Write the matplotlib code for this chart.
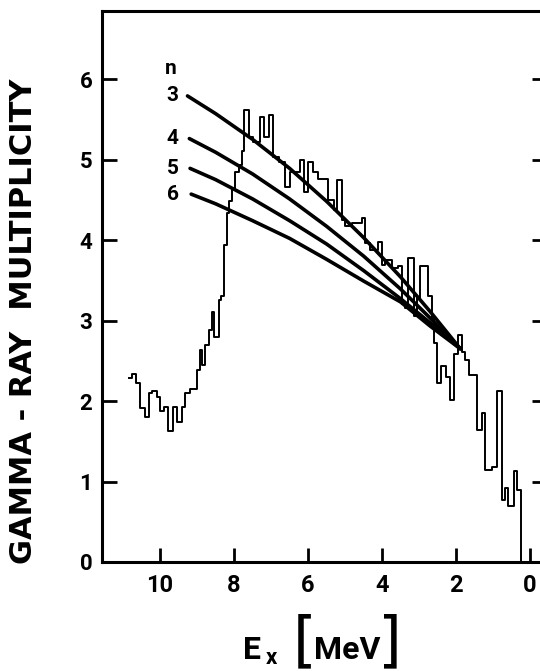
import matplotlib
matplotlib.use('Agg')
import matplotlib.pyplot as plt

plt.rcParams['font.family'] = ['Roboto', 'DejaVu Sans']
plt.rcParams['font.weight'] = 'bold'

# histogram: bin edges (MeV, high to low) and multiplicity in each bin
edges = [10.83, 10.75, 10.65, 10.54, 10.42, 10.31, 10.22, 10.09, 10.00, 9.89,
         9.79, 9.66, 9.55, 9.41, 9.32, 9.19, 9.01, 8.92, 8.87, 8.80,
         8.69, 8.59, 8.53, 8.42, 8.35, 8.26, 8.20, 8.13, 8.06, 7.97,
         7.88, 7.80, 7.72, 7.59, 7.48, 7.30, 7.19, 7.07, 6.94, 6.80,
         6.62, 6.49, 6.22, 6.11, 6.00, 5.87, 5.72, 5.45, 5.30, 5.22,
         5.09, 5.00, 4.82, 4.55, 4.46, 4.32, 4.10, 4.01, 3.92, 3.74,
         3.56, 3.47, 3.38, 3.29, 3.15, 3.06, 2.97, 2.75, 2.66, 2.61,
         2.52, 2.40, 2.28, 2.17, 2.07, 1.96, 1.85, 1.76, 1.64, 1.44,
         1.31, 1.22, 1.04, 0.90, 0.77, 0.68, 0.59, 0.45, 0.36, 0.24]
mult = [2.29, 2.33, 2.22, 1.91, 1.80, 2.10, 2.13, 2.05, 1.87, 1.93,
        1.63, 1.92, 1.74, 1.92, 2.10, 2.15, 2.38, 2.63, 2.45, 2.70,
        2.88, 3.11, 2.80, 3.25, 3.30, 3.94, 4.33, 4.49, 4.63, 4.85,
        4.93, 5.10, 5.62, 5.28, 5.22, 5.53, 5.28, 5.55, 5.03, 4.97,
        4.66, 4.85, 4.99, 4.60, 4.97, 4.85, 4.76, 4.50, 4.37, 4.74,
        4.25, 4.17, 4.21, 4.27, 3.96, 3.88, 3.98, 3.69, 3.75, 3.65,
        3.68, 3.21, 3.16, 3.78, 3.05, 3.28, 3.68, 3.30, 3.03, 2.72,
        2.22, 2.43, 2.30, 2.01, 2.59, 2.82, 2.61, 2.51, 2.32, 1.64,
        1.85, 1.14, 1.18, 2.13, 0.77, 0.92, 0.69, 1.13, 0.89]

# calculated curves for n = 3..6
curve_labels = ['3', '4', '5', '6']
n3_e = [9.26, 8.5, 7.5, 6.5, 5.5, 4.5, 3.5, 2.7, 1.89]
n3_m = [5.79, 5.57, 5.25, 4.89, 4.48, 4.03, 3.54, 3.11, 2.65]
n4_e = [9.21, 8.5, 7.5, 6.5, 5.5, 4.5, 3.5, 2.7, 1.89]
n4_m = [5.26, 5.09, 4.82, 4.51, 4.17, 3.80, 3.39, 3.03, 2.65]
n5_e = [9.19, 8.5, 7.5, 6.5, 5.5, 4.5, 3.5, 2.7, 1.89]
n5_m = [4.89, 4.75, 4.51, 4.24, 3.95, 3.62, 3.27, 2.97, 2.65]
n6_e = [9.16, 8.5, 7.5, 6.5, 5.5, 4.5, 3.5, 2.7, 1.89]
n6_m = [4.57, 4.45, 4.24, 4.02, 3.76, 3.49, 3.23, 2.93, 2.65]

fig = plt.figure(figsize=(5.4, 6.71), dpi=100)
ax = fig.add_axes([102/540, 109/671, 440/540, 551/671])

ax.step(edges, mult + [0], where='post', color='black', lw=1.4)

curves = [(n3_e, n3_m), (n4_e, n4_m), (n5_e, n5_m), (n6_e, n6_m)]
for (e, m), lab in zip(curves, curve_labels):
    ax.plot(e, m, color='black', lw=2.6, solid_capstyle='round')
    ax.text(9.66, m[0], lab, ha='center', va='center', fontsize=15)
ax.text(9.70, 6.13, 'n', ha='center', va='center', fontsize=15)

ax.set_xlim(11.57, -0.32)
ax.set_ylim(0, 6.845)
ax.set_xticks([10, 8, 6, 4, 2, 0])
ax.set_yticks(range(7))
for s in ax.spines.values():
    s.set_linewidth(2.2)
ax.tick_params(direction='in', width=2)
ax.tick_params(axis='x', length=10, pad=9, labelsize=17)
ax.tick_params(axis='y', length=11, pad=7, labelsize=16, right=True)
for t in ax.yaxis.get_major_ticks():
    t.tick2line.set_markersize(7)

fig.text(23.5/540, 1 - 321/671, 'GAMMA - RAY  MULTIPLICITY', rotation=90,
         ha='center', va='center', fontsize=22, family='DejaVu Sans')

# x label: E_x [MeV]
fig.text(252/540, 1 - 650/671, 'E', ha='center', va='center', fontsize=23)
fig.text(271/540, 1 - 658/671, 'x', ha='center', va='center', fontsize=16)
fig.text(305/540, 1 - 643/671, '[', ha='center', va='center', fontsize=44,
         family='DejaVu Sans', weight='normal')
fig.text(347/540, 1 - 650/671, 'MeV', ha='center', va='center', fontsize=23)
fig.text(390/540, 1 - 643/671, ']', ha='center', va='center', fontsize=44,
         family='DejaVu Sans', weight='normal')

fig.savefig('out.png', dpi=100)
